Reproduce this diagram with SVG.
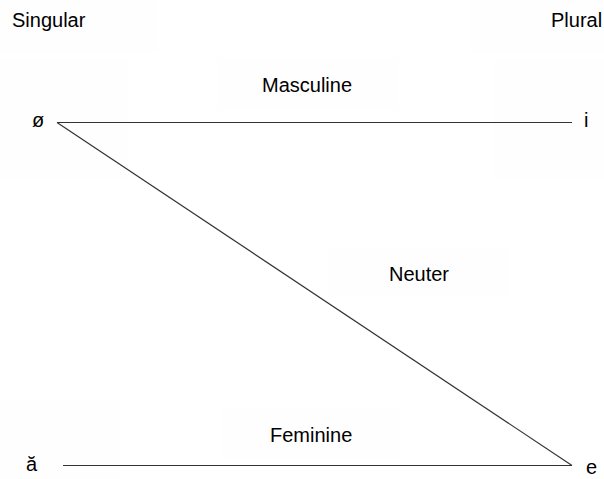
<svg xmlns="http://www.w3.org/2000/svg" width="604" height="479" viewBox="0 0 604 479">
<style>
text{font-family:"Liberation Sans",Arial,sans-serif;font-size:20px;fill:#000}
.bg{fill:#fefefe;stroke:none}
.edge{stroke:#333;stroke-width:1.2;fill:none}
</style>
<rect width="604" height="479" fill="#fff"/>
<g id="backgrounds">
<rect class="bg" x="0" y="0" width="157" height="52"/>
<rect class="bg" x="0" y="58" width="127" height="120"/>
<rect class="bg" x="470" y="0" width="134" height="52"/>
<rect class="bg" x="494" y="58" width="110" height="120"/>
<rect class="bg" x="218" y="58" width="180" height="52"/>
<rect class="bg" x="328" y="248" width="180" height="49"/>
<rect class="bg" x="222" y="408" width="178" height="50"/>
<rect class="bg" x="0" y="400" width="120" height="79"/>
</g>
<g id="connectors">
<line class="edge" x1="57" y1="122.5" x2="572" y2="122.5"/>
<line class="edge" x1="57" y1="122.5" x2="572" y2="465.5"/>
<line class="edge" x1="63" y1="465.5" x2="572" y2="465.5"/>
</g>
<g id="singular"><text x="12" y="27">Singular</text></g>
<g id="plural"><text x="551" y="27">Plural</text></g>
<g id="sg-o"><text x="32" y="127">ø</text></g>
<g id="pl-i"><text x="584" y="127">i</text></g>
<g id="sg-a"><text x="26" y="471">ă</text></g>
<g id="pl-e"><text x="586" y="474">e</text></g>
<g id="masculine"><text x="262" y="92">Masculine</text></g>
<g id="neuter"><text x="389" y="281">Neuter</text></g>
<g id="feminine"><text x="270" y="442">Feminine</text></g>
</svg>
